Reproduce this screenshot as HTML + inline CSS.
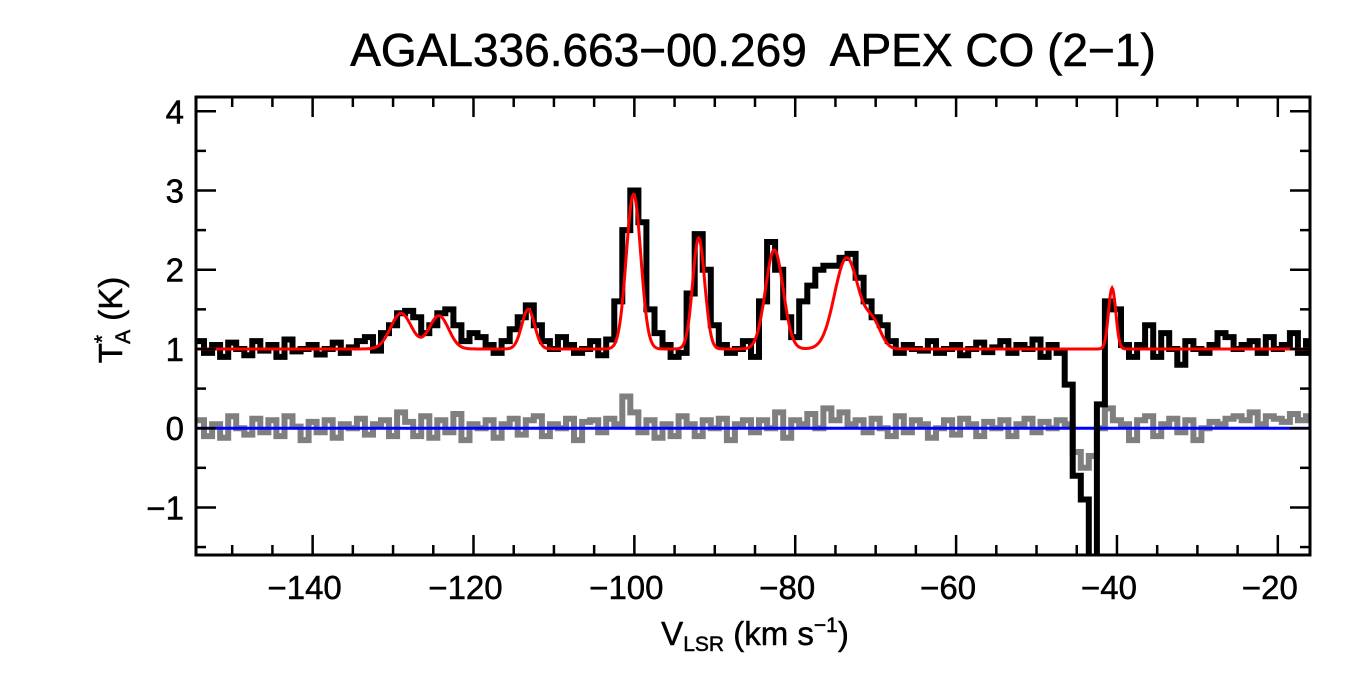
<!DOCTYPE html>
<html><head><meta charset="utf-8"><style>
html,body{margin:0;padding:0;background:#fff;}
svg{display:block;font-family:"Liberation Sans",Arial,sans-serif;}
</style></head><body>
<svg id="chart" width="1350" height="675" viewBox="0 0 1350 675" xmlns="http://www.w3.org/2000/svg">
<text x="753" y="66" font-size="46" text-anchor="middle" stroke="#000" stroke-width="0.6">AGAL336.663−00.269&#160; APEX CO (2−1)</text>
<g id="plot"></g>
<g id="axes"></g>
<text x="755" y="645" font-size="33" text-anchor="middle" stroke="#000" stroke-width="0.5">V<tspan font-size="21" dy="6">LSR</tspan><tspan dy="-6"> (km s</tspan><tspan font-size="21" dy="-13">−1</tspan><tspan dy="13">)</tspan></text>
<text transform="translate(122,320) rotate(-90)" font-size="33" text-anchor="middle" stroke="#000" stroke-width="0.5">T<tspan font-size="21" dy="-13">*</tspan><tspan font-size="21" dy="21" dx="-9">A</tspan><tspan dy="-8"> (K)</tspan></text>
</svg>
<script>
const velStart = -154;
const velStep = 1;
const spectrum = [
1.1,0.95,1.05,0.9,1.08,1.0,0.92,1.1,0.98,1.05,0.9,1.12,0.97,1.0,1.05,0.93,1.0,1.08,0.95,1.02,1.1,1.15,0.98,1.2,
1.3,1.45,1.48,1.4,1.2,1.3,1.45,1.5,1.3,
1.1,1.2,1.15,1.05,0.95,1.1,
1.25,1.4,1.55,1.3,1.1,
1.0,1.15,1.05,0.95,1.0,1.1,0.92,1.12,
1.6,2.5,3.0,2.6,1.5,
1.2,1.05,0.9,0.95,
1.7,2.45,2.0,1.3,
1.05,0.95,1.0,1.1,0.9,
1.6,2.35,2.0,1.4,1.15,
1.6,1.8,2.0,2.05,
2.05,2.15,2.2,1.9,
1.6,1.4,1.3,1.1,
0.95,1.05,1.0,0.98,1.1,0.95,1.0,1.05,0.92,1.0,1.08,0.96,1.02,1.1,0.95,1.05,1.0,1.12,0.9,1.05,0.95,
0.55,-0.6,-0.9,-2.2,0.3,1.6,1.5,1.05,
0.9,1.05,1.3,0.9,1.2,1.0,0.8,1.1,1.0,0.95,1.05,1.2,1.15,1.0,1.05,1.1,0.95,1.15,1.0,1.05,1.2,0.95,1.1];
const residual = [
0.1,-0.1,0.05,-0.12,0.15,0.0,-0.08,0.12,-0.05,0.1,
-0.1,0.15,0.02,-0.15,0.08,-0.05,0.1,-0.12,0.05,0.0,
0.12,-0.08,0.05,0.1,-0.1,0.2,0.08,-0.1,0.15,-0.12,
0.1,-0.05,0.18,-0.15,0.05,0.0,0.1,-0.12,0.05,0.12,
-0.08,0.1,0.15,-0.1,0.05,0.0,0.12,-0.15,0.08,0.1,
-0.05,0.12,0.05,0.4,0.2,-0.05,0.1,-0.12,0.05,-0.1,
0.15,0.05,-0.1,0.1,0.0,0.12,-0.15,0.05,0.1,-0.05,
0.1,0.0,0.2,-0.12,0.1,0.05,0.18,0.0,0.25,0.1,
0.2,0.05,0.1,-0.05,0.12,0.0,-0.1,0.15,-0.05,0.1,
0.05,-0.12,0.0,0.1,-0.08,0.12,0.05,-0.1,0.08,0.0,
0.1,-0.1,0.05,0.12,-0.05,0.08,0.0,0.1,0.05,-0.3,
-0.5,-0.35,0.0,0.25,0.1,0.05,-0.15,0.1,0.15,-0.1,
0.05,0.12,-0.05,0.1,-0.15,0.0,0.08,0.05,0.12,0.15,
0.1,0.2,0.05,0.15,0.12,0.08,0.18,0.1,0.15];
const baseline = 1.0;
const fitCenters = [-129,-124.3,-113.2,-100.1,-92,-82.6,-73.6,-70.3,-40.6];
const fitAmps    = [0.45,0.42,0.5,1.95,1.4,1.25,1.15,0.3,0.77];
const fitSigmas  = [1.3,1.2,0.8,0.9,0.75,1.1,1.5,1.0,0.45];
const xTicks = [-140,-120,-100,-80,-60,-40,-20];
const yTicks = [-1,0,1,2,3,4];

const X0=196,X1=1310,Y0=97,Y1=555;
const xmin=-154.5,xmax=-16.0,ymin=-1.6,ymax=4.18;
const sx=v=>X0+(v-xmin)/(xmax-xmin)*(X1-X0);
const sy=v=>Y1-(v-ymin)/(ymax-ymin)*(Y1-Y0);
const fit=v=>{let s=baseline;for(let i=0;i<fitCenters.length;i++){s+=fitAmps[i]*Math.exp(-0.5*Math.pow((v-fitCenters[i])/fitSigmas[i],2));}return s;};
const NS='http://www.w3.org/2000/svg';
const plot=document.getElementById('plot'), axes=document.getElementById('axes');
function mk(tag,attrs,parent){const e=document.createElementNS(NS,tag);for(const k in attrs)e.setAttribute(k,attrs[k]);parent.appendChild(e);return e;}
const clip=mk('clipPath',{id:'cp'},plot);mk('rect',{x:X0,y:Y0,width:X1-X0,height:Y1-Y0},clip);
const g=mk('g',{'clip-path':'url(#cp)'},plot);
function stepPath(vals){let d='';vals.forEach((y,i)=>{const v=velStart+i*velStep;const xa=sx(v-velStep/2),xb=sx(v+velStep/2);d+=(i?'L':'M')+xa.toFixed(1)+' '+sy(y).toFixed(1)+'L'+xb.toFixed(1)+' '+sy(y).toFixed(1);});return d;}
const rp=mk('path',{d:stepPath(residual),fill:'none',stroke:'#7f7f7f','stroke-width':6},g);


const zl=mk('line',{x1:X0,x2:X1,y1:sy(0),y2:sy(0),stroke:'#0000ff','stroke-width':3},g);


const sp=mk('path',{d:stepPath(spectrum),fill:'none',stroke:'#000','stroke-width':6},g);


let fd='';for(let v=xmin;v<=xmax;v+=0.1){fd+=(fd?'L':'M')+sx(v).toFixed(1)+' '+sy(fit(v)).toFixed(1);}
const fp=mk('path',{d:fd,fill:'none',stroke:'#ff0000','stroke-width':3},g);


const fr=mk('rect',{x:X0,y:Y0,width:X1-X0,height:Y1-Y0,fill:'none',stroke:'#000','stroke-width':3},axes);


for(let v=-150;v<=-20;v+=5){const major=v%20===0;const L=major?20:10;const x=sx(v);
mk('line',{x1:x,x2:x,y1:Y1,y2:Y1-L,stroke:'#000','stroke-width':2.5},axes);
mk('line',{x1:x,x2:x,y1:Y0,y2:Y0+L,stroke:'#000','stroke-width':2.5},axes);}
xTicks.forEach(v=>{const t=mk('text',{x:sx(v)-8,y:Y1+44,'font-size':33,'text-anchor':'middle',stroke:'#000','stroke-width':0.5},axes);t.textContent=(v<0?'−':'')+Math.abs(v);

});
for(let v=-1.5;v<=4;v+=0.5){const major=Math.abs(v-Math.round(v))<1e-6;const L=major?20:10;const y=sy(v);
mk('line',{x1:X0,x2:X0+L,y1:y,y2:y,stroke:'#000','stroke-width':2.5},axes);
mk('line',{x1:X1,x2:X1-L,y1:y,y2:y,stroke:'#000','stroke-width':2.5},axes);}
yTicks.forEach(v=>{const t=mk('text',{x:X0-12,y:sy(v)+12,'font-size':33,'text-anchor':'end',stroke:'#000','stroke-width':0.5},axes);t.textContent=(v<0?'−':'')+Math.abs(v);

});
</script>
</body></html>
